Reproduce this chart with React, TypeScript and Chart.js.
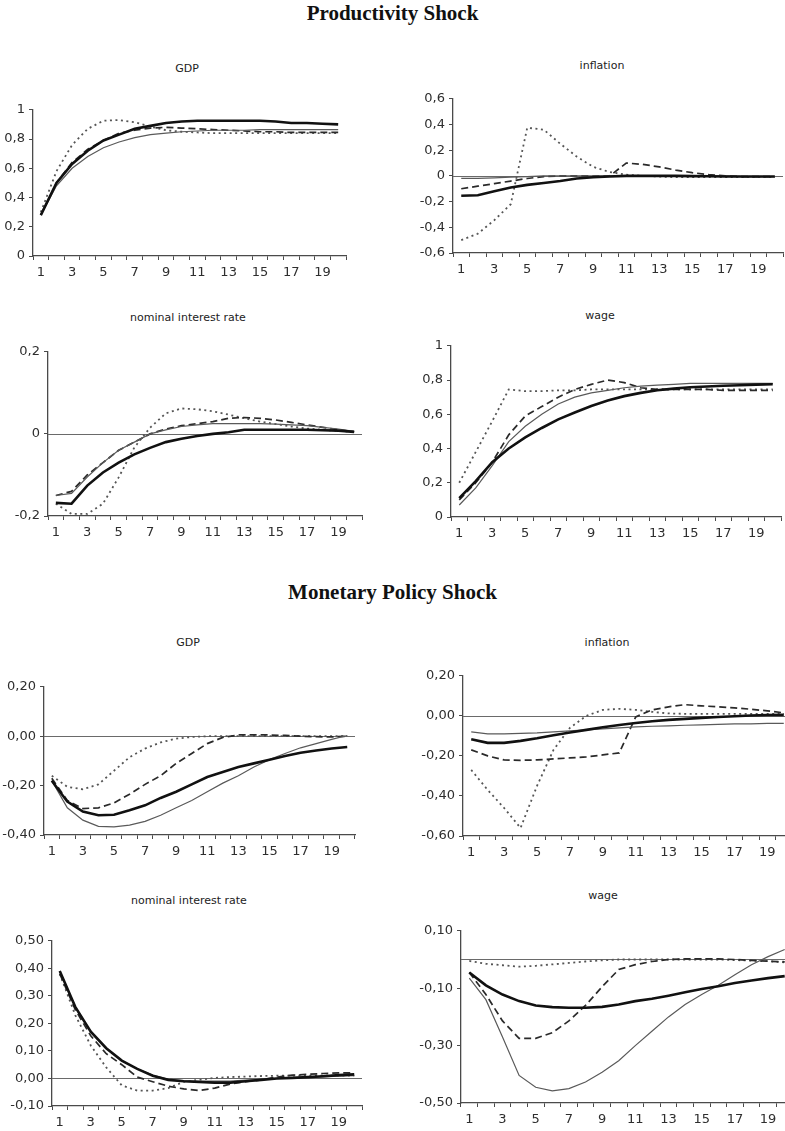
import React, { useEffect, useRef } from 'react';
import { Chart, registerables } from 'chart.js';

Chart.register(...registerables);

// ---------- categories ----------
const periods = ['1', '2', '3', '4', '5', '6', '7', '8', '9', '10', '11', '12', '13', '14', '15', '16', '17', '18', '19', '20'];

// ---------- tick labels (y values) ----------
const prodGdpTicks = [0, 0.2, 0.4, 0.6, 0.8, 1];
const prodInflTicks = [-0.6, -0.4, -0.2, 0, 0.2, 0.4, 0.6];
const prodRateTicks = [-0.2, 0, 0.2];
const prodWageTicks = [0, 0.2, 0.4, 0.6, 0.8, 1];
const monGdpTicks = [-0.4, -0.2, 0, 0.2];
const monInflTicks = [-0.6, -0.4, -0.2, 0, 0.2];
const monRateTicks = [-0.1, 0, 0.1, 0.2, 0.3, 0.4, 0.5];
const monWageTicks = [-0.5, -0.3, -0.1, 0.1];

// ---------- Productivity shock: GDP ----------
const prodGdpThick = [0.28, 0.50, 0.63, 0.72, 0.79, 0.83, 0.87, 0.89, 0.91, 0.92, 0.925, 0.925, 0.925, 0.925, 0.925, 0.92, 0.91, 0.91, 0.905, 0.90];
const prodGdpThin = [0.28, 0.48, 0.60, 0.68, 0.74, 0.78, 0.81, 0.83, 0.84, 0.85, 0.855, 0.86, 0.86, 0.86, 0.865, 0.865, 0.865, 0.865, 0.865, 0.865];
const prodGdpDash = [0.28, 0.50, 0.64, 0.73, 0.79, 0.84, 0.86, 0.875, 0.88, 0.875, 0.87, 0.865, 0.86, 0.855, 0.85, 0.85, 0.845, 0.845, 0.845, 0.845];
const prodGdpDot = [0.30, 0.58, 0.76, 0.87, 0.925, 0.93, 0.915, 0.885, 0.86, 0.85, 0.845, 0.84, 0.84, 0.84, 0.84, 0.84, 0.84, 0.84, 0.84, 0.84];

// ---------- Productivity shock: inflation ----------
const prodInflThick = [-0.155, -0.15, -0.12, -0.09, -0.07, -0.055, -0.04, -0.02, -0.01, -0.005, 0, 0, 0, 0, -0.002, -0.003, -0.005, -0.005, -0.005, -0.005];
const prodInflThin = [-0.02, -0.02, -0.015, -0.01, -0.005, 0, 0, 0, 0, 0, 0, 0, 0, 0, 0, 0, 0, -0.005, -0.005, -0.005];
const prodInflDash = [-0.10, -0.08, -0.06, -0.04, -0.02, -0.005, 0, 0, 0, 0, 0.10, 0.09, 0.07, 0.045, 0.025, 0.01, 0, -0.005, -0.005, -0.005];
const prodInflDot = [-0.50, -0.45, -0.345, -0.22, 0.375, 0.36, 0.25, 0.15, 0.07, 0.03, 0.01, 0, -0.005, -0.01, -0.01, -0.01, -0.01, -0.01, -0.01, -0.01];

// ---------- Productivity shock: nominal interest rate ----------
const prodRateThick = [-0.168, -0.17, -0.126, -0.094, -0.07, -0.05, -0.034, -0.02, -0.012, -0.005, 0, 0.004, 0.01, 0.01, 0.01, 0.01, 0.01, 0.009, 0.008, 0.005];
const prodRateThin = [-0.15, -0.145, -0.105, -0.07, -0.04, -0.02, 0, 0.01, 0.018, 0.022, 0.025, 0.025, 0.025, 0.025, 0.024, 0.022, 0.02, 0.016, 0.012, 0.006];
const prodRateDash = [-0.15, -0.14, -0.10, -0.07, -0.04, -0.02, 0, 0.012, 0.02, 0.025, 0.03, 0.038, 0.04, 0.038, 0.034, 0.028, 0.022, 0.016, 0.01, 0.005];
const prodRateDot = [-0.17, -0.195, -0.195, -0.17, -0.106, -0.033, 0.015, 0.05, 0.062, 0.06, 0.055, 0.047, 0.038, 0.03, 0.024, 0.018, 0.013, 0.01, 0.007, 0.005];

// ---------- Productivity shock: wage ----------
const prodWageThick = [0.11, 0.21, 0.32, 0.40, 0.465, 0.52, 0.57, 0.61, 0.648, 0.68, 0.706, 0.725, 0.74, 0.75, 0.758, 0.762, 0.767, 0.77, 0.773, 0.775];
const prodWageThin = [0.07, 0.17, 0.30, 0.44, 0.53, 0.60, 0.66, 0.70, 0.725, 0.74, 0.755, 0.765, 0.77, 0.775, 0.78, 0.78, 0.78, 0.78, 0.78, 0.78];
const prodWageDash = [0.10, 0.20, 0.32, 0.48, 0.59, 0.645, 0.70, 0.745, 0.775, 0.80, 0.785, 0.755, 0.745, 0.745, 0.745, 0.745, 0.74, 0.74, 0.74, 0.74];
const prodWageDot = [0.20, 0.38, 0.56, 0.745, 0.735, 0.735, 0.74, 0.74, 0.745, 0.745, 0.745, 0.745, 0.745, 0.745, 0.745, 0.745, 0.745, 0.745, 0.745, 0.745];

// ---------- Monetary policy shock: GDP ----------
const monGdpThick = [-0.18, -0.265, -0.305, -0.32, -0.318, -0.30, -0.28, -0.25, -0.225, -0.195, -0.165, -0.145, -0.125, -0.11, -0.095, -0.08, -0.067, -0.058, -0.05, -0.044];
const monGdpThin = [-0.18, -0.29, -0.34, -0.365, -0.367, -0.36, -0.345, -0.32, -0.29, -0.26, -0.225, -0.19, -0.16, -0.125, -0.095, -0.07, -0.047, -0.03, -0.013, 0.003];
const monGdpDash = [-0.17, -0.26, -0.293, -0.29, -0.27, -0.235, -0.195, -0.16, -0.11, -0.07, -0.03, -0.005, 0.005, 0.005, 0.005, 0.003, 0, -0.002, -0.003, 0];
const monGdpDot = [-0.16, -0.205, -0.215, -0.195, -0.14, -0.085, -0.05, -0.025, -0.01, -0.003, 0, 0, 0, 0, 0, 0, 0, 0, 0, 0];

// ---------- Monetary policy shock: inflation ----------
const monInflThick = [-0.117, -0.135, -0.135, -0.125, -0.112, -0.097, -0.083, -0.07, -0.057, -0.046, -0.036, -0.027, -0.02, -0.015, -0.01, -0.006, -0.002, 0.002, 0.004, 0.005];
const monInflThin = [-0.08, -0.09, -0.09, -0.088, -0.085, -0.08, -0.075, -0.07, -0.065, -0.06, -0.055, -0.052, -0.05, -0.047, -0.045, -0.043, -0.04, -0.04, -0.038, -0.038];
const monInflDash = [-0.17, -0.20, -0.22, -0.222, -0.22, -0.215, -0.21, -0.205, -0.195, -0.185, -0.005, 0.03, 0.045, 0.056, 0.05, 0.045, 0.04, 0.033, 0.025, 0.015];
const monInflDot = [-0.27, -0.37, -0.46, -0.56, -0.35, -0.17, -0.06, 0, 0.03, 0.035, 0.03, 0.02, 0.012, 0.01, 0.01, 0.01, 0.01, 0.01, 0.01, 0.01];

// ---------- Monetary policy shock: nominal interest rate ----------
const monRateThick = [0.39, 0.26, 0.17, 0.11, 0.065, 0.035, 0.01, -0.005, -0.01, -0.013, -0.015, -0.015, -0.01, -0.005, 0, 0.002, 0.005, 0.008, 0.012, 0.015];
const monRateThin = [0.39, 0.26, 0.17, 0.11, 0.065, 0.035, 0.012, -0.003, -0.008, -0.01, -0.01, -0.01, -0.006, -0.003, 0, 0.002, 0.004, 0.006, 0.008, 0.01];
const monRateDash = [0.38, 0.25, 0.155, 0.09, 0.05, 0.005, -0.012, -0.028, -0.038, -0.044, -0.035, -0.02, -0.012, -0.005, 0.005, 0.012, 0.015, 0.018, 0.02, 0.02];
const monRateDot = [0.38, 0.23, 0.12, 0.04, -0.025, -0.044, -0.044, -0.035, -0.012, -0.005, 0.002, 0.005, 0.007, 0.009, 0.01, 0.01, 0.01, 0.01, 0.01, 0.01];

// ---------- Monetary policy shock: wage ----------
const monWageThick = [-0.045, -0.09, -0.122, -0.145, -0.16, -0.166, -0.168, -0.168, -0.165, -0.157, -0.145, -0.137, -0.126, -0.114, -0.103, -0.093, -0.082, -0.073, -0.065, -0.058];
const monWageThin = [-0.065, -0.14, -0.27, -0.404, -0.445, -0.458, -0.45, -0.427, -0.393, -0.353, -0.30, -0.25, -0.20, -0.157, -0.122, -0.09, -0.053, -0.018, 0.01, 0.035];
const monWageDash = [-0.045, -0.122, -0.214, -0.275, -0.275, -0.255, -0.214, -0.16, -0.095, -0.035, -0.018, -0.007, 0, 0.002, 0.002, 0.002, 0, -0.003, -0.006, -0.008];
const monWageDot = [-0.005, -0.015, -0.02, -0.025, -0.022, -0.017, -0.012, -0.007, -0.003, 0, 0, 0, 0, 0, 0, 0, -0.002, -0.004, -0.006, -0.01];

// ---------- layout constants ----------
const Y_W = 46;
const PAD_T = 10;
const X_H = 30;
const PAD_R = 2;
const AXIS = '#4a4a4a';
const TXT = '#2e2e2e';
const TICK_FONT = { family: '"DejaVu Sans", sans-serif', size: 13 };

type PanelDef = {
  title: string;
  ticks: number[];
  dec: number;
  zero: boolean;
  series: number[][];
  axisX: number;
  topY: number;
  bottomY: number;
  rightX: number;
  titleX: number;
  titleBase: number;
};

const panels: PanelDef[] = [
  { title: 'GDP', ticks: prodGdpTicks, dec: 1, zero: false, series: [prodGdpThick, prodGdpThin, prodGdpDash, prodGdpDot], axisX: 33, topY: 108, bottomY: 256, rightX: 346, titleX: 187, titleBase: 72 },
  { title: 'inflation', ticks: prodInflTicks, dec: 1, zero: true, series: [prodInflThick, prodInflThin, prodInflDash, prodInflDot], axisX: 453, topY: 97, bottomY: 253, rightX: 783, titleX: 602, titleBase: 69 },
  { title: 'nominal interest rate', ticks: prodRateTicks, dec: 1, zero: true, series: [prodRateThick, prodRateThin, prodRateDash, prodRateDot], axisX: 48, topY: 350, bottomY: 516, rightX: 362, titleX: 188, titleBase: 321 },
  { title: 'wage', ticks: prodWageTicks, dec: 1, zero: false, series: [prodWageThick, prodWageThin, prodWageDash, prodWageDot], axisX: 451, topY: 344, bottomY: 517, rightX: 781, titleX: 600, titleBase: 319 },
  { title: 'GDP', ticks: monGdpTicks, dec: 2, zero: true, series: [monGdpThick, monGdpThin, monGdpDash, monGdpDot], axisX: 44, topY: 685, bottomY: 835, rightX: 355, titleX: 188, titleBase: 646 },
  { title: 'inflation', ticks: monInflTicks, dec: 2, zero: true, series: [monInflThick, monInflThin, monInflDash, monInflDot], axisX: 463, topY: 674, bottomY: 836, rightX: 792, titleX: 607, titleBase: 646 },
  { title: 'nominal interest rate', ticks: monRateTicks, dec: 2, zero: true, series: [monRateThick, monRateThin, monRateDash, monRateDot], axisX: 52, topY: 939, bottomY: 1106, rightX: 362, titleX: 189, titleBase: 904 },
  { title: 'wage', ticks: monWageTicks, dec: 2, zero: true, series: [monWageThick, monWageThin, monWageDash, monWageDot], axisX: 461, topY: 929, bottomY: 1103, rightX: 793, titleX: 603, titleBase: 899 },
];

function fmt(v: number, dec: number): string {
  if (Math.abs(v) < 1e-9) return dec === 1 ? '0' : (0).toFixed(dec).replace('.', ',');
  if (dec === 1 && Math.abs(v - Math.round(v)) < 1e-9) return String(Math.round(v));
  return v.toFixed(dec).replace('.', ',');
}

const zeroLinePlugin = {
  id: 'zeroLine',
  beforeDatasetsDraw(chart: any, _args: any, opts: any) {
    if (!opts || !opts.show) return;
    const ctx = chart.ctx;
    const y = Math.round(chart.scales.y.getPixelForValue(0)) + 0.5;
    const { left, right } = chart.chartArea;
    ctx.save();
    ctx.strokeStyle = '#6a6a6a';
    ctx.lineWidth = 1;
    ctx.beginPath();
    ctx.moveTo(left, y);
    ctx.lineTo(right, y);
    ctx.stroke();
    ctx.restore();
  },
};

const seriesStyles = [
  { borderColor: '#111111', borderWidth: 2.6, borderDash: [] as number[] },
  { borderColor: '#5a5a5a', borderWidth: 1.2, borderDash: [] as number[] },
  { borderColor: '#2a2a2a', borderWidth: 1.7, borderDash: [7, 4] },
  { borderColor: '#555555', borderWidth: 1.8, borderDash: [2, 3.5] },
];

function Panel({ p }: { p: PanelDef }) {
  const ref = useRef<HTMLCanvasElement | null>(null);
  const left = p.axisX - Y_W;
  const top = p.topY - PAD_T;
  const width = p.rightX - left + PAD_R;
  const height = p.bottomY - top + X_H;

  useEffect(() => {
    if (!ref.current) return;
    const minV = p.ticks[0];
    const maxV = p.ticks[p.ticks.length - 1];
    const chart = new Chart(ref.current, {
      type: 'line',
      data: {
        labels: periods,
        datasets: p.series.map((s, i) => ({
          data: s,
          borderColor: seriesStyles[i].borderColor,
          borderWidth: seriesStyles[i].borderWidth,
          borderDash: seriesStyles[i].borderDash,
          pointRadius: 0,
          tension: 0,
          fill: false,
        })),
      },
      options: {
        responsive: false,
        animation: false,
        devicePixelRatio: 1,
        events: [],
        layout: { padding: { top: PAD_T, right: PAD_R, left: 0, bottom: 0 } },
        plugins: {
          legend: { display: false },
          tooltip: { enabled: false },
          title: { display: false },
          zeroLine: { show: p.zero },
        } as any,
        scales: {
          x: {
            type: 'category',
            offset: true,
            grid: { offset: true, drawOnChartArea: false, tickLength: 4, color: AXIS, lineWidth: 1 },
            border: { color: AXIS, width: 1.3 },
            ticks: {
              autoSkip: false,
              maxRotation: 0,
              minRotation: 0,
              padding: 5,
              color: TXT,
              font: TICK_FONT,
              callback: (_v: any, i: number) => (i % 2 === 0 ? periods[i] : ''),
            },
            afterFit: (s: any) => { s.height = X_H; },
          },
          y: {
            type: 'linear',
            min: minV,
            max: maxV,
            afterBuildTicks: (s: any) => { s.ticks = p.ticks.map((v) => ({ value: v })); },
            afterFit: (s: any) => { s.width = Y_W; },
            grid: { drawOnChartArea: false, tickLength: 4, color: AXIS, lineWidth: 1 },
            border: { color: AXIS, width: 1.3 },
            ticks: {
              padding: 4,
              color: TXT,
              font: TICK_FONT,
              callback: (v: any) => fmt(Number(v), p.dec),
            },
          },
        },
      } as any,
      plugins: [zeroLinePlugin as any],
    });
    return () => chart.destroy();
  }, []);

  return (
    <>
      <div
        style={{
          position: 'absolute',
          left: p.titleX,
          top: p.titleBase - 9.3,
          transform: 'translateX(-50%)',
          fontFamily: '"DejaVu Sans", sans-serif',
          fontSize: 11,
          lineHeight: '11px',
          color: '#222',
          whiteSpace: 'nowrap',
        }}
      >
        {p.title}
      </div>
      <canvas
        ref={ref}
        width={width}
        height={height}
        style={{ position: 'absolute', left, top, width, height }}
      />
    </>
  );
}

const mainTitleStyle: React.CSSProperties = {
  position: 'absolute',
  left: 0,
  width: 785,
  textAlign: 'center',
  fontFamily: '"Liberation Serif", "Times New Roman", serif',
  fontWeight: 'bold',
  fontSize: 21,
  lineHeight: '21px',
  color: '#111',
  whiteSpace: 'nowrap',
};

export default function App() {
  return (
    <div style={{ position: 'absolute', left: 0, top: 0, width: 785, height: 1131, overflow: 'hidden', background: '#fff' }}>
      <div style={{ ...mainTitleStyle, top: 3 }}>Productivity Shock</div>
      <div style={{ ...mainTitleStyle, top: 582 }}>Monetary Policy Shock</div>
      {panels.map((p, i) => (
        <Panel key={i} p={p} />
      ))}
    </div>
  );
}
